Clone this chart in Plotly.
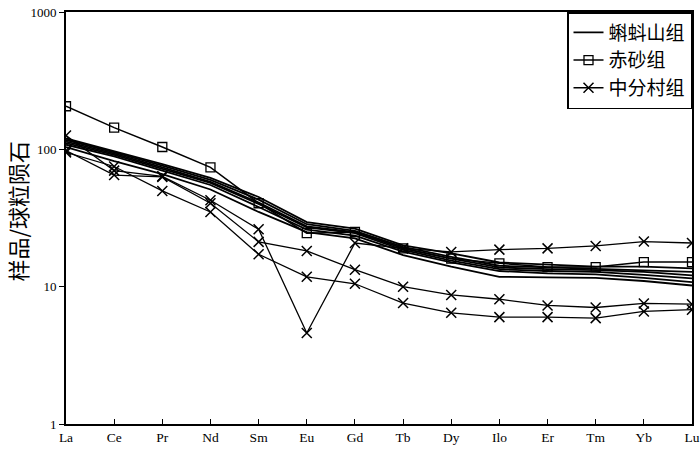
import plotly.graph_objects as go

elements = ["La", "Ce", "Pr", "Nd", "Sm", "Eu", "Gd", "Tb", "Dy", "Ho", "Er", "Tm", "Yb", "Lu"]
tick_labels = ["La", "Ce", "Pr", "Nd", "Sm", "Eu", "Gd", "Tb", "Dy", "Ilo", "Er", "Tm", "Yb", "Lu"]

# 蝌蚪山组 samples
kds_1 = [120, 97, 78, 62, 45, 29.5, 26.5, 20, 17.5, 15, 14.5, 14, 14, 13.6]
kds_2 = [117, 95, 76, 60, 43, 28.5, 25.5, 19.5, 16.5, 14.2, 13.8, 13.5, 13.2, 12.8]
kds_3 = [114, 93, 74, 58, 41, 27.5, 25, 19, 16, 13.8, 13.4, 13.2, 12.8, 12.1]
kds_4 = [111, 91, 72, 57, 40, 27, 24.5, 18.5, 15.5, 13.4, 13, 12.8, 12.2, 11.5]
kds_5 = [108, 89, 70, 55, 38, 26, 23.5, 18, 15, 13, 12.5, 12.3, 11.6, 10.8]
kds_6 = [104, 82, 66, 51, 35, 25, 22.5, 17, 14, 11.8, 11.7, 11.6, 11, 10.2]

# 赤砂组 sample
cs_1 = [206, 144, 104, 74, 40.5, 24.5, 25, 19, 16, 14.8, 13.9, 13.9, 15.1, 15.1]

# 中分村组 samples
zfc_1 = [126, 70, 63.6, 42.6, 26.2, 4.6, 20.8, 19, 17.9, 18.6, 19, 19.8, 21.3, 20.8]
zfc_2 = [98, 65, 63, 40.5, 21.2, 18.2, 13.3, 10, 8.7, 8.1, 7.3, 7.05, 7.55, 7.45]
zfc_3 = [95, 75, 49.8, 35, 17.2, 11.8, 10.5, 7.6, 6.45, 6.0, 6.0, 5.9, 6.6, 6.8]

y_tick_values = [1, 10, 100, 1000]
y_tick_labels = ["1", "10", "100", "1000"]
y_title = "样品/球粒陨石"

kds_series = [kds_1, kds_2, kds_3, kds_4, kds_5, kds_6]
cs_series = [cs_1]
zfc_series = [zfc_1, zfc_2, zfc_3]

x_idx = list(range(len(elements)))

fig = go.Figure()

for i, s in enumerate(kds_series):
    fig.add_trace(go.Scatter(
        x=x_idx, y=s, mode="lines", name="蝌蚪山组",
        legendgroup="kds", showlegend=(i == 0),
        line=dict(color="black", width=1.8),
    ))

for i, s in enumerate(cs_series):
    fig.add_trace(go.Scatter(
        x=x_idx, y=s, mode="lines+markers", name="赤砂组",
        legendgroup="cs", showlegend=(i == 0),
        line=dict(color="black", width=1.5),
        marker=dict(symbol="square-open", size=9, color="black",
                    line=dict(width=1.3, color="black")),
    ))

for i, s in enumerate(zfc_series):
    fig.add_trace(go.Scatter(
        x=x_idx, y=s, mode="lines+markers", name="中分村组",
        legendgroup="zfc", showlegend=(i == 0),
        line=dict(color="black", width=1.3),
        marker=dict(symbol="x-thin-open", size=10, color="black",
                    line=dict(width=1.5, color="black")),
    ))

fig.update_layout(
    width=700, height=455,
    margin=dict(l=66, r=8, t=12, b=31),
    paper_bgcolor="white", plot_bgcolor="white",
    font=dict(family="Liberation Serif, serif", color="black", size=13),
    legend=dict(
        x=1, xanchor="right", y=1, yanchor="top",
        bgcolor="white", bordercolor="black", borderwidth=1.5,
        font=dict(family="Noto Sans CJK SC", size=19, color="black"),
        itemwidth=30, tracegroupgap=0,
    ),
    annotations=[dict(
        text=y_title, xref="paper", yref="paper",
        x=-0.078, y=0.516, xanchor="center", yanchor="middle",
        textangle=-90, showarrow=False,
        font=dict(family="Noto Sans CJK SC", size=22, color="black"),
    )],
)

fig.update_xaxes(
    range=[0, 13], tickmode="array", tickvals=x_idx, ticktext=tick_labels,
    ticks="inside", ticklen=5, tickwidth=1, tickcolor="black",
    showline=True, linewidth=2, linecolor="black", mirror=True,
    showgrid=False, zeroline=False, automargin=False,
    ticklabeloverflow="allow",
    tickfont=dict(family="Liberation Serif", size=13.5, color="black"),
)

fig.update_yaxes(
    type="log", range=[0, 3], tickmode="array",
    tickvals=y_tick_values, ticktext=y_tick_labels,
    ticks="outside", ticklen=5, tickwidth=1, tickcolor="black",
    showline=True, linewidth=2, linecolor="black", mirror=True,
    showgrid=False, zeroline=False, automargin=False,
    ticklabeloverflow="allow",
    tickfont=dict(family="Liberation Serif", size=13, color="black"),
)

fig.write_html("out.html", config={"displayModeBar": False},
               post_script="document.body.style.margin='0px';")
